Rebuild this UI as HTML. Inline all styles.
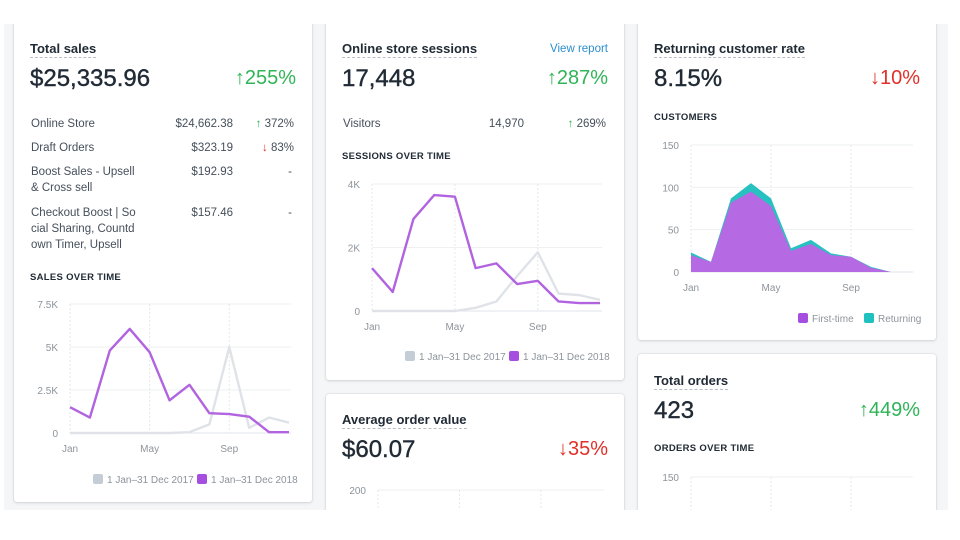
<!DOCTYPE html>
<html><head><meta charset="utf-8"><style>
body{margin:0;width:960px;height:540px;background:#fff;font-family:"Liberation Sans",sans-serif;color:#212b36;position:relative;overflow:hidden}
.bg{position:absolute;left:4px;top:24px;width:944px;height:486px;background:#f4f6f8}
.card{position:absolute;background:#fff;box-shadow:0 0 0 1px rgba(63,63,68,.05),0 1px 3px rgba(63,63,68,.15);border-radius:3px}
.t{position:absolute;font-size:13px;font-weight:bold;border-bottom:1px dashed #b8bec4;padding-bottom:1px;white-space:nowrap}
.big{position:absolute;font-size:24px;white-space:nowrap;-webkit-text-stroke:0.4px #212b36}
.pct{position:absolute;font-size:20px;white-space:nowrap}
.g{color:#2fb457}.r{color:#e0302a}
.s{position:absolute;font-size:11.5px;color:#454f5b;white-space:nowrap;line-height:16px}
.sec{position:absolute;font-size:9.5px;font-weight:bold;letter-spacing:.3px;color:#212b36}
svg{position:absolute;left:0;top:0}
svg text{font-family:"Liberation Sans",sans-serif;font-size:10px;fill:#8c949b}
</style></head><body>
<div class="bg"></div>

<div class="card" style="left:14px;top:20px;width:298px;height:482px">
<div class="t" style="left:16px;top:21px">Total sales</div>
<div class="big" style="left:16px;top:45px">$25,335.96</div>
<div class="pct g" style="right:16px;top:47px">↑255%</div>
<div class="s" style="left:17px;top:96px">Online Store</div>
<div class="s" style="right:79px;top:96px">$24,662.38</div>
<div class="s" style="right:18px;top:96px"><span class="g">↑</span> 372%</div>
<div class="s" style="left:17px;top:120px">Draft Orders</div>
<div class="s" style="right:79px;top:120px">$323.19</div>
<div class="s" style="right:18px;top:120px"><span class="r">↓</span> 83%</div>
<div class="s" style="left:17px;top:144px">Boost Sales - Upsell<br>&amp; Cross sell</div>
<div class="s" style="right:79px;top:144px">$192.93</div>
<div class="s" style="right:20px;top:144px">-</div>
<div class="s" style="left:17px;top:185px">Checkout Boost | So<br>cial Sharing, Countd<br>own Timer, Upsell</div>
<div class="s" style="right:79px;top:185px">$157.46</div>
<div class="s" style="right:20px;top:185px">-</div>
<div class="sec" style="left:16px;top:252px">SALES OVER TIME</div>
</div>

<div class="card" style="left:326px;top:20px;width:298px;height:360px">
<div class="t" style="left:16px;top:21px">Online store sessions</div>
<div class="s" style="right:16px;top:21px;color:#2c8ecf;font-size:11.5px">View report</div>
<div class="big" style="left:16px;top:45px">17,448</div>
<div class="pct g" style="right:16px;top:47px">↑287%</div>
<div class="s" style="left:17px;top:96px">Visitors</div>
<div class="s" style="right:100px;top:96px">14,970</div>
<div class="s" style="right:18px;top:96px"><span class="g">↑</span> 269%</div>
<div class="sec" style="left:16px;top:131px">SESSIONS OVER TIME</div>
</div>

<div class="card" style="left:326px;top:394px;width:298px;height:130px">
<div class="t" style="left:16px;top:18px">Average order value</div>
<div class="big" style="left:16px;top:42px">$60.07</div>
<div class="pct r" style="right:16px;top:44px">↓35%</div>
</div>

<div class="card" style="left:638px;top:20px;width:298px;height:320px">
<div class="t" style="left:16px;top:21px">Returning customer rate</div>
<div class="big" style="left:16px;top:45px">8.15%</div>
<div class="pct r" style="right:16px;top:47px">↓10%</div>
<div class="sec" style="left:16px;top:92px">CUSTOMERS</div>
</div>

<div class="card" style="left:638px;top:354px;width:298px;height:170px">
<div class="t" style="left:16px;top:19px">Total orders</div>
<div class="big" style="left:16px;top:43px">423</div>
<div class="pct g" style="right:16px;top:45px">↑449%</div>
<div class="sec" style="left:16px;top:89px">ORDERS OVER TIME</div>
</div>

<svg id="chart" width="960" height="540"></svg>
<div style="position:absolute;left:0;top:0;width:960px;height:24px;background:#fff"></div>
<div style="position:absolute;left:0;top:510px;width:960px;height:30px;background:#fff"></div>

<script>
const months = ["Jan","Feb","Mar","Apr","May","Jun","Jul","Aug","Sep","Oct","Nov","Dec"];
const monthLabels = ["Jan","May","Sep"];
const sales2017 = [0,0,0,0,0,0,0.05,0.5,5,0.3,0.9,0.6];
const sales2018 = [1.5,0.9,4.8,6.05,4.7,1.9,2.8,1.15,1.1,0.95,0.05,0.05];
const salesTicks = [0,2.5,5,7.5];
const salesTickLabels = ["0","2.5K","5K","7.5K"];
const sessions2017 = [0,0,0,0,0,0.1,0.3,1.1,1.85,0.55,0.5,0.35];
const sessions2018 = [1.35,0.6,2.9,3.65,3.6,1.35,1.5,0.85,0.95,0.3,0.25,0.25];
const sessionTicks = [0,2,4];
const sessionTickLabels = ["0","2K","4K"];
const firstTime = [20,12,82,95,78,25,33,20,18,5,0,0];
const returning = [3,0,5,10,9,3,5,2,0,1,0,0];
const customerTicks = [0,50,100,150];
const customerTickLabels = ["0","50","100","150"];
const aovTicks = [200];
const orderTicks = [150];

const svg = document.getElementById('chart');
const NS = 'http://www.w3.org/2000/svg';
function mk(tag, attrs, name, parent){
  const el = document.createElementNS(NS, tag);
  for (const k in attrs) el.setAttribute(k, attrs[k]);
  
  
  (parent||svg).appendChild(el);
  return el;
}
function axes(x0,x1,y0,y1,maxV,ticks,labels,showMonths,prefix){
  const xs = i => x0 + (x1-x0)*i/11;
  const ys = v => y0 - (y0-y1)*v/maxV;
  ticks.forEach((t,i)=>{
    const y = ys(t);
    mk('line',{x1:x0,x2:x1+2,y1:y,y2:y,stroke:t===0?'#dfe3e8':'#eef0f2','stroke-width':1},prefix+'-gridline');
    const tx = mk('text',{x:x0-12,y:y+4,'text-anchor':'end'},prefix+'-y-tick-label');
    tx.textContent = labels[i];
  });
  [0,4,8].forEach((m,i)=>{
    mk('line',{x1:xs(m),x2:xs(m),y1:y1,y2:y0,stroke:'#e4e7ea','stroke-dasharray':'2,2'},prefix+'-month-gridline');
    if(showMonths){
      const tx = mk('text',{x:xs(m),y:y0+19,'text-anchor':'middle'},prefix+'-x-tick-label');
      tx.textContent = monthLabels[i];
    }
  });
  return {xs,ys};
}
function line(a,data,color,name){
  const d = data.map((v,i)=>(i?'L':'M')+a.xs(i)+','+a.ys(v)).join(' ');
  mk('path',{d:d,fill:'none',stroke:color,'stroke-width':2.4,'stroke-linejoin':'round'},name);
}
function legend(x,y,items,prefix){
  let cx = x;
  items.forEach(it=>{
    mk('rect',{x:cx,y:y-9,width:10,height:10,rx:2,fill:it[1]},prefix+'-legend-swatch');
    const t = mk('text',{x:cx+14,y:y,'font-size':'10'},prefix+'-legend-entry');
    t.textContent = it[0];
    cx += 14 + it[2];
  });
}
let a = axes(70,289,433,304,7.5,salesTicks,salesTickLabels,true,'sales');
line(a,sales2017,'#dfe3e8','sales-2017-line');
line(a,sales2018,'#b163e0','sales-2018-line');
legend(93,483,[["1 Jan–31 Dec 2017","#c4cdd5",90],["1 Jan–31 Dec 2018","#a64ee0",0]],'sales');
a = axes(372,600,311,184,4,sessionTicks,sessionTickLabels,true,'sessions');
line(a,sessions2017,'#dfe3e8','sessions-2017-line');
line(a,sessions2018,'#b163e0','sessions-2018-line');
legend(405,360,[["1 Jan–31 Dec 2017","#c4cdd5",90],["1 Jan–31 Dec 2018","#a64ee0",0]],'sessions');
a = axes(691,911,272,145,150,customerTicks,customerTickLabels,true,'customers');
const total = firstTime.map((v,i)=>v+returning[i]);
function area(data,color,name){
  const top = data.map((v,i)=>(i?'L':'M')+a.xs(i)+','+a.ys(v)).join(' ');
  mk('path',{d:top+' L'+a.xs(11)+','+a.ys(0)+' L'+a.xs(0)+','+a.ys(0)+' Z',fill:color},name);
}
area(total,'#28c1c1','returning-area');
area(firstTime,'#b569e3','first-time-area');
legend(798,322,[["First-time","#a64ee0",52],["Returning","#1fc0c0",0]],'customers');
a = axes(378,602,600,490,200,aovTicks,["200"],false,'aov');
a = axes(691,911,600,477,150,orderTicks,["150"],false,'orders');
</script>
</body></html>
